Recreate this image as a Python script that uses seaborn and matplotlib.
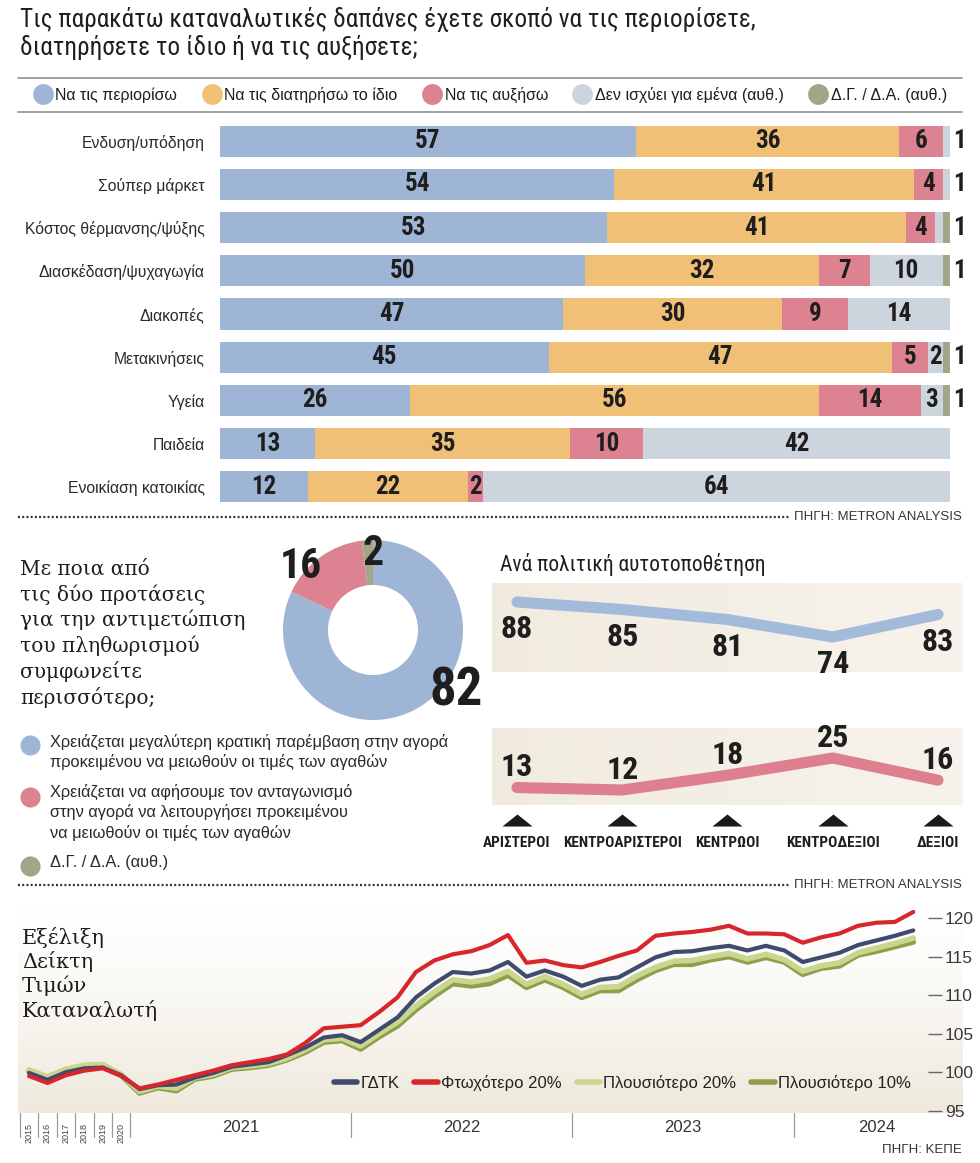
import os
import numpy as np
import pandas as pd
import matplotlib
matplotlib.use('Agg')
import matplotlib.pyplot as plt
import seaborn as sns
from matplotlib import font_manager as fm
from matplotlib.colors import LinearSegmentedColormap

# ==================== data ====================
categories = ['Ενδυση/υπόδηση', 'Σούπερ μάρκετ', 'Κόστος θέρμανσης/ψύξης',
              'Διασκέδαση/ψυχαγωγία', 'Διακοπές', 'Μετακινήσεις', 'Υγεία',
              'Παιδεία', 'Ενοικίαση κατοικίας']
limit_vals = [57, 54, 53, 50, 47, 45, 26, 13, 12]
keep_vals = [36, 41, 41, 32, 30, 47, 56, 35, 22]
raise_vals = [6, 4, 4, 7, 9, 5, 14, 10, 2]
na_vals = [1, 1, 1, 10, 14, 2, 3, 42, 64]
dk_vals = [0, 0, 1, 1, 0, 1, 1, 0, 0]
seg_names = ['Να τις περιορίσω', 'Να τις διατηρήσω το ίδιο', 'Να τις αυξήσω',
             'Δεν ισχύει για εμένα (αυθ.)', 'Δ.Γ. / Δ.Α. (αυθ.)']

donut_vals = [82, 16, 2]
donut_names = ['Χρειάζεται μεγαλύτερη κρατική παρέμβαση στην αγορά\nπροκειμένου να μειωθούν οι τιμές των αγαθών',
               'Χρειάζεται να αφήσουμε τον ανταγωνισμό\nστην αγορά να λειτουργήσει προκειμένου\nνα μειωθούν οι τιμές των αγαθών',
               'Δ.Γ. / Δ.Α. (αυθ.)']

groups = ['ΑΡΙΣΤΕΡΟΙ', 'ΚΕΝΤΡΟΑΡΙΣΤΕΡΟΙ', 'ΚΕΝΤΡΩΟΙ', 'ΚΕΝΤΡΟΔΕΞΙΟΙ', 'ΔΕΞΙΟΙ']
state_by_group = [88, 85, 81, 74, 83]
market_by_group = [13, 12, 18, 25, 16]

# 2015-2020 annual, then monthly Jan 2021 - Jul 2024
period_labels = ['2015', '2016', '2017', '2018', '2019', '2020'] + \
    [f'{y}-{m:02d}' for y in (2021, 2022, 2023) for m in range(1, 13)] + \
    [f'2024-{m:02d}' for m in range(1, 8)]
cpi_all = [99.9, 99.0, 100.0, 100.5, 100.6, 99.6,
           97.8, 98.3, 98.4, 99.3, 99.9, 100.7, 101.0, 101.3, 102.2, 103.2, 104.5, 104.8,
           103.9, 105.5, 107.1, 109.7, 111.5, 113.0, 112.8, 113.2, 114.3, 112.4, 113.2, 112.4,
           111.2, 112.0, 112.3, 113.6, 114.9, 115.6, 115.7, 116.1, 116.4, 115.8, 116.4, 115.8,
           114.3, 114.9, 115.5, 116.5, 117.1, 117.7, 118.4]
cpi_poor20 = [99.5, 98.6, 99.6, 100.2, 100.5, 99.5,
              97.9, 98.4, 99.0, 99.6, 100.2, 100.9, 101.3, 101.7, 102.3, 103.8, 105.7, 105.9,
              106.1, 107.8, 109.7, 113.0, 114.5, 115.3, 115.7, 116.5, 117.8, 114.2, 114.5, 113.9,
              113.6, 114.3, 115.1, 115.8, 117.7, 118.0, 118.2, 118.5, 119.0, 118.0, 118.0, 117.9,
              116.8, 117.5, 118.0, 119.0, 119.4, 119.5, 120.8]
cpi_rich20 = [100.3, 99.4, 100.4, 100.9, 101.0, 99.7,
              97.5, 98.2, 97.9, 99.3, 99.7, 100.6, 100.8, 101.1, 101.8, 102.9, 104.2, 104.4,
              103.4, 105.0, 106.5, 108.6, 110.4, 112.0, 111.7, 112.1, 113.1, 111.4, 112.4, 111.4,
              110.1, 111.0, 111.1, 112.5, 113.6, 114.4, 114.5, 115.0, 115.4, 114.7, 115.3, 114.6,
              113.1, 113.8, 114.2, 115.5, 116.1, 116.7, 117.4]
cpi_rich10 = [100.1, 99.2, 100.2, 100.7, 100.9, 99.6,
              97.3, 98.0, 97.6, 99.1, 99.5, 100.4, 100.6, 100.9, 101.6, 102.6, 103.9, 104.1,
              103.0, 104.6, 106.0, 108.1, 109.9, 111.5, 111.2, 111.5, 112.6, 111.0, 112.0, 111.0,
              109.7, 110.6, 110.6, 112.0, 113.2, 114.0, 114.0, 114.6, 115.0, 114.3, 114.9, 114.3,
              112.7, 113.5, 113.8, 115.2, 115.7, 116.3, 116.9]
cpi_names = ['ΓΔΤΚ', 'Φτωχότερο 20%', 'Πλουσιότερο 20%', 'Πλουσιότερο 10%']
cpi_yticks = [95, 100, 105, 110, 115, 120]
year_labels = ['2021', '2022', '2023', '2024']

# ==================== style ====================
sns.set_theme(style='white')
SANS = 'Liberation Sans'
SERIF = 'DejaVu Serif'
plt.rcParams['font.family'] = [SANS, 'DejaVu Sans']


# look for any condensed / narrow face that is installed
def find_condensed(bold):
    best = None
    for f in fm.fontManager.ttflist:
        key = (f.name + ' ' + os.path.basename(f.fname) + ' ' + str(f.stretch)).lower()
        if not ('condensed' in key or 'narrow' in key):
            continue
        if any(b in key for b in ('semi', 'extra', 'ultra', 'italic', 'oblique')):
            continue
        w = f.weight if isinstance(f.weight, int) else (700 if 'bold' in str(f.weight) else 400)
        if (w >= 600) != bold:
            continue
        score = 0 if 'roboto' in key else 1 if 'liberation' in key else 2
        if best is None or score < best[0]:
            best = (score, f.fname)
    return best[1] if best else None


cond_bold_file = find_condensed(True)
cond_reg_file = find_condensed(False)


def cond(size, bold=True):
    path = cond_bold_file if bold else cond_reg_file
    if path:
        fp = fm.FontProperties(fname=path)
        fp.set_size(size)
    else:
        fp = fm.FontProperties(family=SANS, weight='bold' if bold else 'normal',
                               size=size * 0.85)
    return fp


BLUE, ORANGE, PINK, GREY, OLIVE = '#9fb5d6', '#f0c077', '#dc8290', '#ccd4dd', '#a2a688'
seg_colors = [BLUE, ORANGE, PINK, GREY, OLIVE]
TXT = '#1e1e1e'

W, H = 980, 1163
fig = plt.figure(figsize=(W / 100, H / 100), dpi=100)


def px_axes(x0, y0, x1, y1):
    a = fig.add_axes([x0 / W, 1 - y1 / H, (x1 - x0) / W, (y1 - y0) / H])
    a.patch.set_alpha(0)
    return a


# background layer in pixel coordinates
bg = px_axes(0, 0, W, H)
beige = LinearSegmentedColormap.from_list('beige', ['#ffffff', '#efe9dc'])
grad = np.linspace(0, 1, 256).reshape(-1, 1) ** 1.3
bg.imshow(grad, extent=(18, 962, 1113, 905), cmap=beige, aspect='auto', zorder=0)
band = LinearSegmentedColormap.from_list('band', ['#f1ebdf', '#f7f3ec'])
hgrad = np.linspace(0, 1, 256).reshape(1, -1)
bg.imshow(hgrad, extent=(492, 962, 672, 583), cmap=band, aspect='auto', zorder=0)
bg.imshow(hgrad, extent=(492, 962, 805, 728), cmap=band, aspect='auto', zorder=0)
bg.set_xlim(0, W)
bg.set_ylim(H, 0)
bg.axis('off')

# ==================== top: title + legend ====================
bg.text(20, 7, 'Τις παρακάτω καταναλωτικές δαπάνες έχετε σκοπό να τις περιορίσετε,\n'
        'διατηρήσετε το ίδιο ή να τις αυξήσετε;', ha='left', va='top',
        fontproperties=cond(18.2, bold=False), color=TXT, linespacing=1.17)
for yy in (78, 112):
    bg.plot([18, 962], [yy, yy], color='#9a9a9a', lw=1.3)
handles = [plt.Line2D([], [], marker='o', ls='', markersize=15, markerfacecolor=c,
                      markeredgewidth=0) for c in seg_colors]
fig.legend(handles, seg_names, loc='center', bbox_to_anchor=(491 / W, 1 - 95 / H), ncol=5,
           frameon=False, fontsize=11.5, handletextpad=0.3, columnspacing=1.65,
           handlelength=1.0, labelcolor=TXT)

# ==================== stacked bars ====================
vals = np.array([limit_vals, keep_vals, raise_vals, na_vals, dk_vals])
cum = np.cumsum(vals, axis=0)
ax = px_axes(220, 119.5, 950, 508.5)
for k in range(4, -1, -1):
    sns.barplot(x=cum[k], y=categories, orient='h', color=seg_colors[k], saturation=1,
                width=0.72, linewidth=0, errorbar=None, ax=ax)
ax.set_xlim(0, 100)
ax.set(xlabel='', ylabel='', xticks=[])
sns.despine(ax=ax, left=True, bottom=True)
ax.tick_params(axis='y', length=0, pad=11, labelsize=11.3, labelcolor='#2a2a2a')
num_fp = cond(18)
for i in range(len(categories)):
    left = 0
    for k in range(5):
        v = vals[k][i]
        if v >= 2:
            ax.text(left + v / 2, i, str(v), ha='center', va='center',
                    fontproperties=num_fp, color=TXT)
        left += v
    last = [vals[k][i] for k in range(5) if vals[k][i] > 0][-1]
    if last == 1:
        ax.text(101.3, i, str(last), ha='center', va='center', fontproperties=num_fp,
                color=TXT, clip_on=False)


def source_line(y, label):
    bg.plot([18, 790], [y, y], color='#333333', lw=1.6, ls=(0, (0.9, 1.0)),
            dash_capstyle='butt')
    bg.text(962, y, label, ha='right', va='center', fontsize=9.5, color='#333333')


source_line(517, 'ΠΗΓΗ: METRON ANALYSIS')

# ==================== donut ====================
bg.text(20, 560, 'Με ποια από\nτις δύο προτάσεις\nγια την αντιμετώπιση\nτου πληθωρισμού\n'
        'συμφωνείτε\nπερισσότερο;', ha='left', va='top', fontsize=14.5, family=SERIF,
        color=TXT, linespacing=1.31)
axd = px_axes(283, 540, 463, 720)
axd.pie(donut_vals, colors=[BLUE, PINK, OLIVE], startangle=90, counterclock=False,
        radius=1, wedgeprops=dict(width=0.5, linewidth=0))
axd.set_xlim(-1, 1)
axd.set_ylim(-1, 1)
axd.text(-0.8, 0.7, str(donut_vals[1]), ha='center', va='center', fontproperties=cond(30),
         color=TXT)
axd.text(0.0, 0.85, str(donut_vals[2]), ha='center', va='center', fontproperties=cond(30),
         color=TXT)
axd.text(0.92, -0.68, str(donut_vals[0]), ha='center', va='center', fontproperties=cond(38),
         color=TXT)

leg_y = [745, 797, 866]
text_y = [734, 784, 855]
for c, name, cy, ty in zip([BLUE, PINK, OLIVE], donut_names, leg_y, text_y):
    bg.scatter([30], [cy], s=210, color=c, linewidths=0)
    bg.text(50, ty, name, ha='left', va='top', fontsize=11.8, color='#2a2a2a',
            linespacing=1.33)

# ==================== by political self-placement ====================
bg.text(500, 565, 'Ανά πολιτική αυτοτοποθέτηση', ha='left', va='center',
        fontproperties=cond(15.5, bold=False), color=TXT)
xpos = np.arange(len(groups))
xl = (-0.2375, 4.228)
axt = px_axes(492, 583, 962, 672)
sns.lineplot(x=xpos, y=state_by_group, color='#a4badb', linewidth=8,
             solid_capstyle='round', ax=axt)
axt.set_xlim(*xl)
axt.set_ylim(60.0, 95.6)
axt.axis('off')
lab_fp = cond(23)
for x, v in zip(xpos, state_by_group):
    axt.annotate(str(v), (x, v), xytext=(0, -19.5), textcoords='offset points',
                 ha='center', va='center', fontproperties=lab_fp, color=TXT)

axb = px_axes(492, 728, 962, 805)
sns.lineplot(x=xpos, y=market_by_group, color='#dd7f8e', linewidth=8,
             solid_capstyle='round', ax=axb)
axb.set_xlim(*xl)
axb.set_ylim(5.9, 37.2)
axb.axis('off')
for x, v in zip(xpos, market_by_group):
    axb.annotate(str(v), (x, v), xytext=(0, 14.5), textcoords='offset points',
                 ha='center', va='center', fontproperties=lab_fp, color=TXT)

axl = px_axes(492, 808, 962, 858)
axl.set_xlim(*xl)
axl.set_ylim(858, 808)
axl.axis('off')
axl.scatter(xpos, [820] * len(xpos), marker=[(-1.25, -0.5), (1.25, -0.5), (0, 0.5)],
            s=470, color='#1a1a1a', linewidths=0)
grp_fp = cond(11)
for x, g in zip(xpos, groups):
    axl.text(x, 843, g, ha='center', va='center', fontproperties=grp_fp, color=TXT)

source_line(885, 'ΠΗΓΗ: METRON ANALYSIS')

# ==================== CPI lines ====================
idx = np.arange(len(period_labels))
cpi = pd.DataFrame({'idx': idx, cpi_names[0]: cpi_all, cpi_names[1]: cpi_poor20,
                    cpi_names[2]: cpi_rich20, cpi_names[3]: cpi_rich10})
line_colors = {cpi_names[0]: '#3f4b6e', cpi_names[1]: '#d8262d',
               cpi_names[2]: '#c8d68e', cpi_names[3]: '#8e9f4b'}
line_widths = {cpi_names[0]: 3.0, cpi_names[1]: 3.0, cpi_names[2]: 4.0, cpi_names[3]: 4.0}

axc = px_axes(18, 905, 928, 1113)
for name in [cpi_names[3], cpi_names[2], cpi_names[0], cpi_names[1]]:
    sns.lineplot(data=cpi, x='idx', y=name, color=line_colors[name],
                 linewidth=line_widths[name], label=name, ax=axc)
axc.set_xlim(-0.6, 48.8)
axc.set_ylim(94.7, 121.7)
axc.set(xlabel='', ylabel='', xticks=[])
axc.set_yticks(cpi_yticks)
axc.yaxis.tick_right()
axc.tick_params(axis='y', direction='out', length=10, width=1, color='#666666', pad=2,
                labelsize=12.5, labelcolor='#3a3a3a', right=True, left=False)
for s in axc.spines.values():
    s.set_visible(False)
h, l = axc.get_legend_handles_labels()
order = [l.index(n) for n in cpi_names]
leg = axc.legend([h[i] for i in order], cpi_names, loc='center', bbox_to_anchor=(0.664, 0.144),
                 ncol=4, frameon=False, fontsize=12, handlelength=1.4, handletextpad=0.2,
                 columnspacing=0.9, labelcolor='#222222')
for lh in leg.get_lines():
    lh.set_linewidth(4)

tr = axc.get_xaxis_transform()
bounds = [i - 0.5 for i in range(7)] + [17.5, 29.5, 41.5]
for b in bounds:
    axc.plot([b, b], [0, -0.115], transform=tr, color='#9a9a9a', lw=0.9, clip_on=False)
for i in range(6):
    axc.text(idx[i], -0.095, period_labels[i], transform=tr, rotation=90, ha='center',
             va='center', fontsize=6.5, color='#444444')
for lab, xc in zip(year_labels, [11.5, 23.5, 35.5, 46.0]):
    axc.text(xc, -0.072, lab, transform=tr, ha='center', va='center', fontsize=12,
             color='#333333')

bg.text(22, 927, 'Εξέλιξη\nΔείκτη\nΤιμών\nΚαταναλωτή', ha='left', va='top', fontsize=15,
        family=SERIF, color=TXT, linespacing=1.2)
bg.text(962, 1150, 'ΠΗΓΗ: ΚΕΠΕ', ha='right', va='center', fontsize=9.5, color='#333333')

fig.savefig('out.png', dpi=100)
